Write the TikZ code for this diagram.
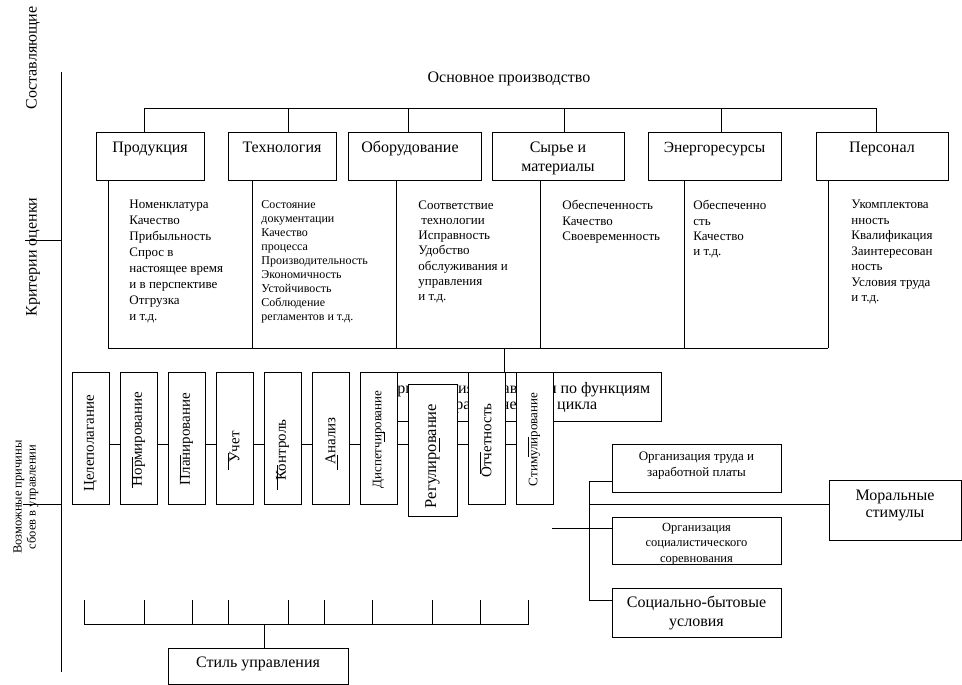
\documentclass[tikz,border=0pt]{standalone}
\usepackage{fontspec}
\setmainfont{Liberation Serif}
\usetikzlibrary{fit,calc}
\newcommand\fszA{\fontsize{16}{19}\selectfont}
\newcommand\fszB{\fontsize{15}{17}\selectfont}
\newcommand\fszC{\fontsize{13}{16}\selectfont}
\begin{document}
\begin{tikzpicture}[x=1pt,y=-1pt,line width=0.9pt,
  box/.style={draw,fill=white,inner sep=0pt},
  txt/.style={inner sep=0pt,align=center,font=\fszA},
  crit/.style={inner sep=0pt,align=left,anchor=north west},
  vtxt/.style={inner sep=0pt,rotate=90,font=\fszB},
  art/.style={line width=0.7pt}]
\useasboundingbox (0,0) rectangle (962,685);

% ---------- left axis ----------
\node[vtxt,font=\fszA] (lab1) at (33,58) {Составляющие};
\node[vtxt,font=\fszA] (lab2) at (33,257) {Критерии оценки};
\node[vtxt,align=center,font=\fontsize{12.5}{14}\selectfont] (lab3) at (26,497) {Возможные причины\\сбоев в управлении};
\coordinate (ml1) at (61,72);
\coordinate (ml2) at (61,672);
\coordinate (lt1) at (25,240);
\coordinate (lt2) at (23,504);
\draw (ml1) -- (ml2);
\draw (lt1) -- (ml1 |- lt1);
\draw (lt2) -- (ml1 |- lt2);

% ---------- top level ----------
\node[txt,anchor=base] (title) at (509,83) {Основное производство};

\node[box,fit={(96,132)(204,180)}] (prod) {};
\node[box,fit={(228,132)(336,180)}] (tech) {};
\node[box,fit={(348,132)(481,180)}] (equip) {};
\node[box,fit={(492,132)(624,180)}] (raw) {};
\node[box,fit={(648,132)(781,180)}] (energy) {};
\node[box,fit={(816,132)(948,180)}] (pers) {};

\node[txt,anchor=base] (prodt) at (150,152.5) {Продукция};
\node[txt,anchor=base] (techt) at (282,152.5) {Технология};
\node[txt,anchor=base] (equipt) at (410,152.5) {Оборудование};
\node[txt,anchor=north] (rawt) at (558,141.5) {Сырье и\\материалы};
\node[txt,anchor=base,font=\fontsize{15.5}{19}\selectfont] (energyt) at (714.5,152.5) {Энергоресурсы};
\node[txt,anchor=base] (perst) at (882,152.5) {Персонал};

\coordinate (d1) at (144,108);
\coordinate (d2) at (288,108);
\coordinate (d3) at (408,108);
\coordinate (d4) at (564,108);
\coordinate (d5) at (721,108);
\coordinate (d6) at (876,108);
\draw (d1) -- (d6);
\draw (d1) -- (d1 |- prod.north);
\draw (d2) -- (d2 |- tech.north);
\draw (d3) -- (d3 |- equip.north);
\draw (d4) -- (d4 |- raw.north);
\draw (d5) -- (d5 |- energy.north);
\draw (d6) -- (d6 |- pers.north);

% ---------- criteria ----------
\coordinate (k1) at (108,348);
\coordinate (k2) at (252,348);
\coordinate (k3) at (396,348);
\coordinate (k4) at (540,348);
\coordinate (k5) at (684,348);
\coordinate (k6) at (828,348);
\coordinate (kc) at (504,348);
\draw (k1) -- (k6);
\draw (k1) -- (k1 |- prod.south);
\draw (k2) -- (k2 |- tech.south);
\draw (k3) -- (k3 |- equip.south);
\draw (k4) -- (k4 |- raw.south);
\draw (k5) -- (k5 |- energy.south);
\draw (k6) -- (k6 |- pers.south);

\node[crit,font=\fontsize{13}{16}\selectfont] (c1) at (129,200) {Номенклатура\\Качество\\Прибыльность\\Спрос в\\настоящее время\\и в перспективе\\Отгрузка\\и т.д.};
\node[crit,font=\fontsize{12}{14}\selectfont] (c2) at (261,200.5) {Состояние\\документации\\Качество\\процесса\\Производительность\\Экономичность\\Устойчивость\\Соблюдение\\регламентов и т.д.};
\node[crit,font=\fontsize{13}{15.3}\selectfont] (c3) at (418,200) {Соответствие\\\hspace*{3pt}технологии\\Исправность\\Удобство\\обслуживания и\\управления\\и т.д.};
\node[crit,font=\fontsize{13}{15.5}\selectfont] (c4) at (562,200) {Обеспеченность\\Качество\\Своевременность};
\node[crit,font=\fontsize{13}{15.3}\selectfont] (c5) at (693,200) {Обеспеченно\\сть\\Качество\\и т.д.};
\node[crit,font=\fontsize{13}{15.5}\selectfont] (c6) at (851,200) {Укомплектова\\нность\\Квалификация\\Заинтересован\\ность\\Условия труда\\и т.д.};

% ---------- functions ----------
\node[box,fit={(380,372.5)(661,421)}] (func) {};
\node[txt,font=\fontsize{16}{16}\selectfont] (funct) at (518,398) {Организация управления по функциям\\управленческого цикла};
\draw (kc) -- (kc |- func.north);

\node[box,fit={(72,372)(109,504)}] (b1) {};
\node[box,fit={(120,372)(157,504)}] (b2) {};
\node[box,fit={(168,372)(205,504)}] (b3) {};
\node[box,fit={(216,372)(253,504)}] (b4) {};
\node[box,fit={(264,372)(301,504)}] (b5) {};
\node[box,fit={(312,372)(349,504)}] (b6) {};
\node[box,fit={(360,372)(397,504)}] (b7) {};
\node[box,fit={(408,384)(457,516)}] (b8) {};
\node[box,fit={(468,372)(505,504)}] (b9) {};
\node[box,fit={(516,372)(553,504)}] (b10) {};

\node[vtxt] (v1) at (90.5,443.5) {Целеполагание};
\node[vtxt] (v2) at (138.5,439) {Нормирование};
\node[vtxt] (v3) at (186.5,439) {Планирование};
\node[vtxt] (v4) at (234.5,447) {Учет};
\node[vtxt] (v5) at (282.5,450) {Контроль};
\node[vtxt] (v6) at (330.5,441) {Анализ};
\node[vtxt,font=\fontsize{13}{15}\selectfont] (v7) at (378.5,439.5) {Диспетчирование};
\node[vtxt,font=\fontsize{16.5}{18}\selectfont] (v8) at (432.5,456) {Регулирование};
\node[vtxt] (v9) at (486.5,440.5) {Отчетность};
\node[vtxt,font=\fontsize{13}{15}\selectfont] (v10) at (534.5,439.5) {Стимулирование};

\coordinate (row) at (0,444);
\foreach \a/\b in {b1/b2,b2/b3,b3/b4,b4/b5,b5/b6,b6/b7,b7/b8,b8/b9,b9/b10}
  \draw (\a.east |- row) -- (\b.west |- row);

% small stray strokes along the rotated labels
\draw[art] (132,457) -- (132,488);
\draw[art] (180,455) -- (180,480);
\draw[art] (228,453) -- (228,470);
\draw[art] (277,465) -- (277,490);
\draw[art] (337,455) -- (337,470);
\draw[art] (384,432) -- (384,442);
\draw[art] (439,438) -- (439,452);
\draw[art] (480,452) -- (480,474);
\draw[art] (528,437) -- (528,457);

% ---------- right group ----------
\node[box,fit={(612,444)(781,492)}] (orgtr) {};
\node[box,fit={(612,517)(781,564)}] (orgsoc) {};
\node[box,fit={(612,588)(781,637)}] (sbyt) {};
\node[box,fit={(829,480)(961,540)}] (moral) {};
\node[txt,font=\fontsize{13}{16}\selectfont] (orgtrt) at (696.5,466) {Организация труда и\\заработной платы};
\node[txt,font=\fontsize{12.5}{15.5}\selectfont] (orgsoct) at (696.5,544) {Организация\\социалистического\\соревнования};
\node[txt] (sbytt) at (696.5,612.5) {Социально-бытовые\\условия};
\node[txt,font=\fontsize{16}{17}\selectfont] (moralt) at (895,505) {Моральные\\стимулы};

\coordinate (brT) at (589,481);
\coordinate (brM) at (589,504);
\coordinate (brB) at (589,600);
\coordinate (fr) at (552,528);
\draw (orgtr.west |- brT) -- (brT) -- (brB) -- (sbyt.west |- brB);
\draw (brM) -- (moral.west |- brM);
\draw (fr) -- (orgsoc.west |- fr);

% ---------- bottom ----------
\node[box,fit={(168,648)(348,684)}] (style) {};
\node[txt] (stylet) at (258,664) {Стиль управления};
\foreach \x [count=\i] in {84,144,192,228,288,324,372,432,480,528}
  \coordinate (tk\i) at (\x,600);
\coordinate (bb) at (264,624);
\draw (tk1) -- (tk1 |- bb) -- (tk10 |- bb) -- (tk10);
\foreach \i in {2,...,9} \draw (tk\i) -- (tk\i |- bb);
\draw (bb) -- (bb |- style.north);
\end{tikzpicture}
\end{document}
